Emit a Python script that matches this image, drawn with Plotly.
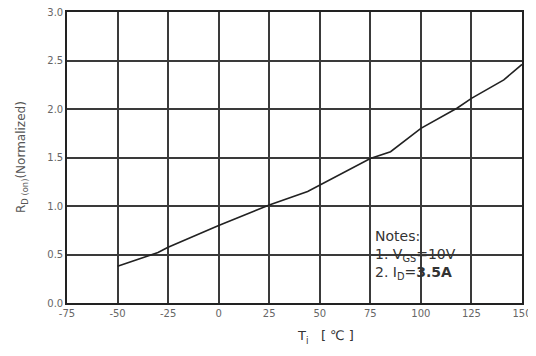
import plotly.graph_objects as go

temps = [-50, -30, -25, 0, 25, 44, 75, 85, 100, 118, 125, 141, 150]
rds = [0.38, 0.52, 0.575, 0.80, 1.01, 1.15, 1.49, 1.56, 1.80, 2.01, 2.11, 2.30, 2.46]
x_ticks = [-75, -50, -25, 0, 25, 50, 75, 100, 125, 150]
y_ticks = [0.0, 0.5, 1.0, 1.5, 2.0, 2.5, 3.0]

fig = go.Figure()
fig.add_trace(go.Scatter(x=temps, y=rds, mode="lines",
                         line=dict(color="#222222", width=1.6), showlegend=False))

gridc = "#3a3a3a"
tickfont = dict(family="DejaVu Sans", size=10, color="#666")
fig.update_xaxes(range=[-75, 150], tickvals=x_ticks, ticktext=[str(v) for v in x_ticks],
                 showgrid=True, gridcolor=gridc, gridwidth=1.6, automargin=False,
                 ticklabeloverflow="allow",
                 zeroline=False, showline=True, linecolor="#222", linewidth=1.6, mirror=True,
                 ticks="", tickfont=tickfont)
fig.update_yaxes(range=[0, 3.0], tickvals=y_ticks, ticktext=[f"{v:.1f}" for v in y_ticks],
                 showgrid=True, gridcolor=gridc, gridwidth=1.6, automargin=False,
                 ticklabeloverflow="allow",
                 zeroline=False, showline=True, linecolor="#222", linewidth=1.6, mirror=True,
                 ticks="", tickfont=tickfont)

fig.add_annotation(xref="paper", yref="paper", x=-0.1, y=0.5, xanchor="center", yanchor="middle",
                   text="R<sub>D (on)</sub>(Normalized)", textangle=-90, showarrow=False,
                   font=dict(family="DejaVu Sans", size=12, color="#555"))
fig.add_annotation(xref="paper", yref="paper", x=0.569, y=-0.08, xanchor="center", yanchor="top",
                   text="T<sub>j</sub>   [ ℃ ]", showarrow=False,
                   font=dict(family="DejaVu Sans", size=13, color="#333"))
fig.add_annotation(xref="paper", yref="paper", x=0.672, y=0.265, xanchor="left", yanchor="top",
                   align="left", showarrow=False,
                   font=dict(family="DejaVu Sans", size=14, color="#333"),
                   text="Notes:<br>1. V<sub>GS</sub>=10V<br>2. I<sub>D</sub>=<b>3.5A</b>")

fig.update_layout(width=528, height=336, margin=dict(l=59, r=14, t=4, b=41),
                  paper_bgcolor="white", plot_bgcolor="white")
fig.write_html("out.html", config={"displayModeBar": False})
